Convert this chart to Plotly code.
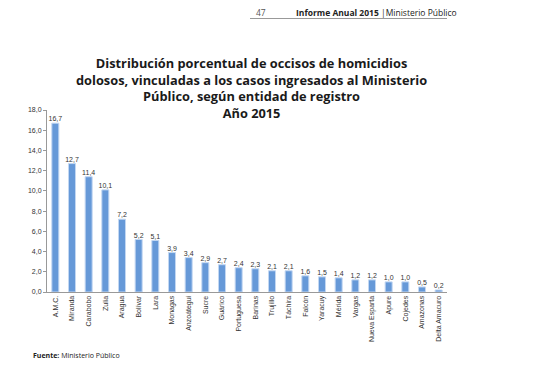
import plotly.graph_objects as go

categories = ["A.M.C.", "Miranda", "Carabobo", "Zulia", "Aragua", "Bolívar", "Lara",
              "Monagas", "Anzoátegui", "Sucre", "Guárico", "Portuguesa", "Barinas",
              "Trujillo", "Táchira", "Falcón", "Yaracuy", "Mérida", "Vargas",
              "Nueva Esparta", "Apure", "Cojedes", "Amazonas", "Delta Amacuro"]
values = [16.7, 12.7, 11.4, 10.1, 7.2, 5.2, 5.1, 3.9, 3.4, 2.9, 2.7, 2.4, 2.3,
          2.1, 2.1, 1.6, 1.5, 1.4, 1.2, 1.2, 1.0, 1.0, 0.5, 0.2]
y_ticks = [0, 2, 4, 6, 8, 10, 12, 14, 16, 18]
title_lines = ["Distribución porcentual de occisos de homicidios",
               "dolosos, vinculadas a los casos ingresados al Ministerio",
               "Público, según entidad de registro",
               "Año 2015"]

# page has an 8px body margin; plot area in page coords: x 47..447, y 110..292
def px(x):
    return (x - 47) / 400

def py(y):
    return (292 - y) / 182

fig = go.Figure()
fig.add_trace(go.Bar(
    x=categories, y=values,
    marker=dict(color="#6699d8", line=dict(color="#c2d7f2", width=1)),
    width=0.42, hoverinfo="x+y",
))
fig.add_trace(go.Scatter(
    x=categories, y=values, mode="text",
    text=[f"{v:.1f}".replace(".", ",") for v in values],
    textposition="top center", cliponaxis=False,
    textfont=dict(size=7, color="#333333", family="Liberation Sans"),
    hoverinfo="skip",
))

fig.update_layout(
    width=526, height=371,
    margin=dict(l=39, r=87, t=102, b=87),
    paper_bgcolor="white", plot_bgcolor="white",
    separators=",.",
    showlegend=False,
    font=dict(family="Liberation Sans", color="#333333"),
    xaxis=dict(
        tickangle=-90, tickfont=dict(size=7, color="#333333"),
        showline=True, linecolor="#999999", linewidth=1,
        ticks="", showgrid=False, range=[-0.5, 23.5],
    ),
    yaxis=dict(
        range=[0, 18], tickvals=y_ticks, tickformat=".1f",
        tickfont=dict(size=7, color="#333333"),
        showline=True, linecolor="#999999", linewidth=1,
        ticks="outside", ticklen=3, tickcolor="#999999",
        showgrid=False, zeroline=False,
    ),
)

fig.add_annotation(
    text="<b>" + "<br>".join(title_lines) + "</b>", xref="paper", yref="paper",
    x=px(251), y=py(88), xanchor="center", yanchor="middle",
    showarrow=False, align="center",
    font=dict(family="Open Sans", size=12.8, color="#1a1a1a"),
)

fig.add_annotation(
    text="47", xref="paper", yref="paper", x=px(254), y=py(12.5),
    yanchor="middle", xanchor="left", showarrow=False,
    font=dict(family="Open Sans", size=8.5, color="#555555"),
)
fig.add_annotation(
    text="<b>Informe Anual 2015</b> |Ministerio Público", xref="paper", yref="paper",
    x=px(294), y=py(12.5), yanchor="middle", xanchor="left",
    showarrow=False, font=dict(family="Open Sans", size=8.5, color="#222222"),
)
fig.add_shape(type="line", xref="paper", yref="paper",
              x0=px(250), x1=px(447), y0=py(18.5), y1=py(18.5),
              line=dict(color="#999999", width=1))

fig.add_annotation(
    text="<b>Fuente:</b> Ministerio Público", xref="paper", yref="paper",
    x=px(31), y=py(355), xanchor="left", yanchor="middle",
    showarrow=False, font=dict(family="Open Sans", size=7, color="#222222"),
)

fig.write_html("out.html")
